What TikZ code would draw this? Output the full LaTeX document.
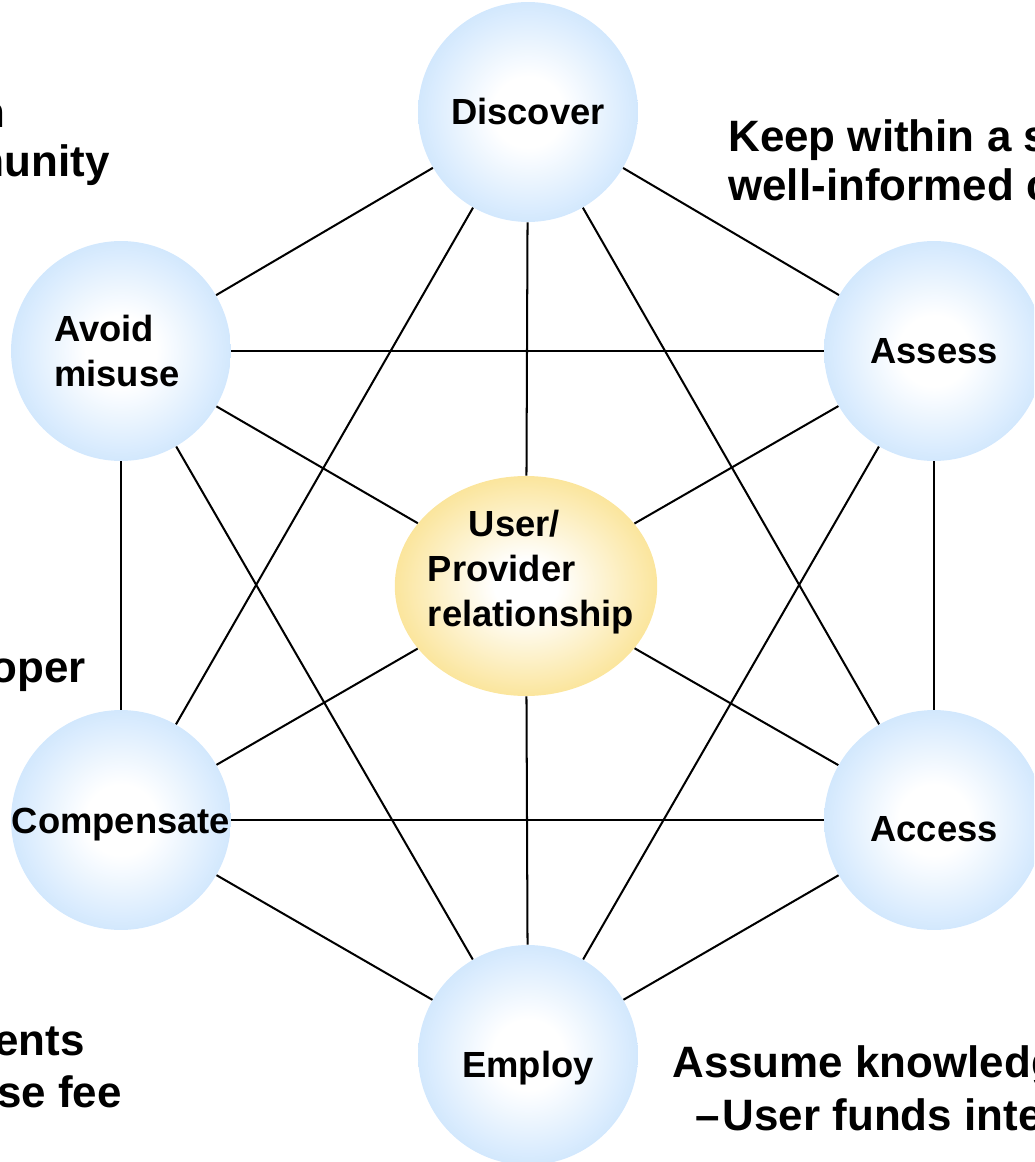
\documentclass[tikz,border=0pt]{standalone}
\usepackage{xcolor}
\usepackage{fontspec}
\setmainfont{Liberation Sans}
\usepackage{tikz}
\usetikzlibrary{shapes.geometric}

\definecolor{ballblue}{RGB}{176,214,252}
\definecolor{ballgold}{RGB}{249,217,110}
\pgfdeclareradialshading{blueball}{\pgfpoint{0bp}{0bp}}{color(0bp)=(white); color(8bp)=(white); color(38bp)=(ballblue); color(50bp)=(ballblue)}
\pgfdeclareradialshading{goldball}{\pgfpoint{0bp}{0bp}}{color(0bp)=(white); color(6bp)=(white); color(34bp)=(ballgold); color(50bp)=(ballgold)}

\begin{document}
\begin{tikzpicture}[
  x=0.02cm, y=-0.02cm,
  phase/.style={circle, minimum size=4.4cm, inner sep=0pt, shading=blueball,
                align=left, font=\fontsize{20.7}{25}\selectfont\bfseries},
  hub/.style={ellipse, minimum width=5.25cm, minimum height=4.4cm, inner sep=0pt,
              shading=goldball},
  word/.style={inner sep=0pt, align=left, font=\fontsize{20.7}{25.5}\selectfont\bfseries},
  note/.style={inner sep=0pt, font=\fontsize{25}{30}\selectfont\bfseries},
  link/.style={line width=1.15pt}
]
  \useasboundingbox (0,0) rectangle (1034,1162);
  \clip (0,0) rectangle (1034,1162);

  \node[phase] (disc) at (528,112) {Discover};
  \node[phase] (asse) at (934,351) {Assess};
  \node[phase, label={[word, yshift=-0.18cm]center:Access}] (acce) at (934,820) {};
  \node[phase, label={[word, yshift=-0.26cm]center:Employ}] (empl) at (528,1055) {};
  \node[phase, label={[word, yshift=-0.1cm]center:Compensate}] (comp) at (121,820) {};
  \node[phase, label={[word, xshift=-0.08cm]center:Avoid\\misuse}] (avoi) at (121,351) {};
  \node[hub] (upr) at (526,586) {};
  \node[word] (uprtext) at (531,572) {\hspace{0.82cm}User/\\Provider\\relationship};

  \foreach \a in {disc,asse,acce,empl,comp,avoi}
    \draw[link] (upr) -- (\a);
  \foreach \a/\b in {disc/asse, asse/acce, acce/empl, empl/comp, comp/avoi, avoi/disc,
                     disc/acce, disc/comp, asse/empl, asse/avoi, acce/comp, empl/avoi}
    \draw[link] (\a) -- (\b);

  \node[note, anchor=base east] (tl1) at (6,128) {Act within};
  \node[note, anchor=base east] (tl2) at (110,177) {the community};
  \node[note, anchor=base east] (ml1) at (86,682) {developer};
  \node[note, anchor=base east] (bl1) at (85,1055) {payments};
  \node[note, anchor=base east] (bl2) at (122,1107) {license fee};
  \node[note, anchor=base west] (tr1) at (728,152) {Keep within a small,};
  \node[note, anchor=base west] (tr2) at (728,200) {well-informed community};
  \node[note, anchor=base west] (br1) at (672,1077) {Assume knowledgeable use};
  \node[note, anchor=base west] (br2) at (695,1130) {\textendash\hspace{0.06cm}User funds integration};
\end{tikzpicture}
\end{document}
